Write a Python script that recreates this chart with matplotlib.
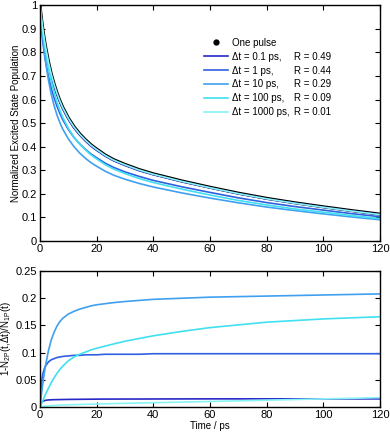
import matplotlib
matplotlib.use("Agg")
from matplotlib import pyplot as plt
from matplotlib.lines import Line2D

plt.rcParams['font.family'] = ['Liberation Sans', 'DejaVu Sans']
plt.rcParams['mathtext.fontset'] = 'custom'
plt.rcParams['mathtext.rm'] = 'Liberation Sans'
plt.rcParams['mathtext.it'] = 'Liberation Sans'

# time axis (ps)
t = [0, 0.25, 0.5, 1, 1.5, 2, 3, 4, 5, 6, 7, 8, 10, 12, 14, 16, 18, 20, 23, 26, 30, 35, 40,
     50, 60, 70, 80, 90, 100, 110, 120]

# normalized excited state population
one_pulse = [1.0, 0.972, 0.945, 0.898, 0.858, 0.822, 0.760, 0.708, 0.665, 0.628, 0.596, 0.568,
             0.522, 0.485, 0.455, 0.430, 0.408, 0.390, 0.365, 0.345, 0.325, 0.303, 0.285,
             0.255, 0.228, 0.203, 0.181, 0.162, 0.145, 0.129, 0.114]
pop_01 = [1.0, 0.967, 0.937, 0.889, 0.848, 0.812, 0.750, 0.699, 0.656, 0.619, 0.588, 0.560,
          0.515, 0.478, 0.449, 0.424, 0.402, 0.384, 0.360, 0.340, 0.320, 0.298, 0.281,
          0.251, 0.225, 0.200, 0.178, 0.160, 0.143, 0.127, 0.112]
pop_1 = [1.0, 0.943, 0.902, 0.843, 0.798, 0.760, 0.697, 0.646, 0.606, 0.571, 0.541, 0.515,
         0.473, 0.439, 0.412, 0.389, 0.369, 0.353, 0.330, 0.312, 0.293, 0.274, 0.257,
         0.230, 0.206, 0.183, 0.163, 0.146, 0.131, 0.116, 0.103]
pop_10 = [1.0, 0.960, 0.923, 0.859, 0.805, 0.758, 0.681, 0.620, 0.573, 0.534, 0.502, 0.475,
          0.433, 0.400, 0.373, 0.351, 0.332, 0.317, 0.296, 0.279, 0.262, 0.244, 0.229,
          0.204, 0.182, 0.162, 0.144, 0.129, 0.115, 0.102, 0.090]
pop_100 = [1.0, 0.969, 0.939, 0.887, 0.843, 0.802, 0.733, 0.676, 0.629, 0.589, 0.555, 0.525,
           0.478, 0.440, 0.411, 0.387, 0.365, 0.348, 0.324, 0.305, 0.286, 0.265, 0.248,
           0.220, 0.195, 0.172, 0.153, 0.136, 0.122, 0.108, 0.095]
pop_1000 = [1.0, 0.972, 0.944, 0.897, 0.857, 0.821, 0.758, 0.706, 0.663, 0.626, 0.594, 0.566,
            0.520, 0.483, 0.453, 0.428, 0.406, 0.388, 0.363, 0.343, 0.323, 0.301, 0.283,
            0.253, 0.226, 0.201, 0.179, 0.160, 0.143, 0.127, 0.112]

# 1 - N2P / N1P
frac_01 = [0, 0.005, 0.008, 0.0105, 0.0117, 0.0124, 0.013, 0.0133, 0.0135, 0.0136, 0.0137,
           0.0138, 0.014, 0.0141, 0.0142, 0.0143, 0.0144, 0.0145, 0.0146, 0.0146, 0.0147,
           0.0147, 0.0148, 0.0149, 0.015, 0.015, 0.015, 0.015, 0.015, 0.015, 0.015]
frac_1 = [0, 0.03, 0.045, 0.061, 0.070, 0.076, 0.083, 0.087, 0.089, 0.091, 0.092, 0.093, 0.094,
          0.095, 0.095, 0.096, 0.096, 0.096, 0.097, 0.097, 0.097, 0.097, 0.098, 0.098, 0.098,
          0.098, 0.098, 0.098, 0.098, 0.098, 0.098]
frac_10 = [0, 0.012, 0.023, 0.043, 0.062, 0.078, 0.104, 0.124, 0.138, 0.149, 0.157, 0.163,
           0.171, 0.176, 0.180, 0.183, 0.186, 0.188, 0.190, 0.192, 0.194, 0.196, 0.198, 0.200,
           0.202, 0.203, 0.204, 0.205, 0.206, 0.207, 0.208]
frac_100 = [0, 0.003, 0.006, 0.012, 0.018, 0.024, 0.035, 0.045, 0.054, 0.062, 0.069, 0.075,
            0.085, 0.092, 0.097, 0.101, 0.105, 0.108, 0.112, 0.116, 0.121, 0.126, 0.131,
            0.139, 0.146, 0.151, 0.156, 0.159, 0.162, 0.164, 0.166]
frac_1000 = [0, 0.0003, 0.0006, 0.001, 0.0014, 0.0017, 0.0022, 0.0026, 0.0029, 0.0032, 0.0034,
             0.0036, 0.004, 0.0043, 0.0046, 0.0049, 0.0052, 0.0055, 0.0059, 0.0063, 0.0068,
             0.0073, 0.0079, 0.009, 0.0102, 0.0114, 0.0126, 0.0138, 0.015, 0.0161, 0.0172]

delay_labels = ['\u0394t = 0.1 ps,', '\u0394t = 1 ps,', '\u0394t = 10 ps,',
                '\u0394t = 100 ps,', '\u0394t = 1000 ps,']
r_labels = ['R = 0.49', 'R = 0.44', 'R = 0.29', 'R = 0.09', 'R = 0.01']
colors = ['#2828c8', '#3060e0', '#40a0f0', '#40e0f0', '#88f4f4']

pops = [pop_01, pop_1, pop_10, pop_100, pop_1000]
fracs = [frac_01, frac_1, frac_10, frac_100, frac_1000]

fig = plt.figure(figsize=(3.9, 4.33), dpi=100)
ax1 = fig.add_axes([0.1026, 0.4434, 0.8718, 0.5446])
ax2 = fig.add_axes([0.1026, 0.060, 0.8718, 0.314])


def style(ax):
    ax.tick_params(direction='in', top=True, right=True, length=3.5, width=0.8,
                   labelsize=8, pad=2)
    for s in ax.spines.values():
        s.set_linewidth(1.0)


# top panel
ax1.plot(t, one_pulse, color='black', lw=2.2)
handles = []
for p, c in zip(pops, colors):
    h, = ax1.plot(t, p, color=c, lw=1.2)
    handles.append(h)
ax1.set_xlim(0, 120)
ax1.set_ylim(0, 1)
ax1.set_xticks(range(0, 121, 20))
ax1.set_yticks([i / 10 for i in range(11)])
ax1.set_yticklabels(['0'] + ['%.1f' % (i / 10) for i in range(1, 10)] + ['1'])
ax1.set_ylabel('Normalized Excited State Population', fontsize=7)
ax1.yaxis.set_label_coords(-0.055, 0.5)
style(ax1)

dot = Line2D([], [], color='black', marker='o', ms=3.5, ls='none')
blank = Line2D([], [], color='none')
leg_handles = [dot] + handles + [blank] * 6
leg_labels = ['One pulse'] + delay_labels + [''] + r_labels
ax1.legend(leg_handles, leg_labels, ncol=2, frameon=False, fontsize=7,
           loc='upper left', bbox_to_anchor=(0.482, 0.862), borderaxespad=0,
           borderpad=0, handlelength=2.47, handletextpad=0.4, labelspacing=0.4,
           columnspacing=-2.4)

# bottom panel
for f, c in zip(fracs, colors):
    ax2.plot(t, f, color=c, lw=1.2)
ax2.set_xlim(0, 120)
ax2.set_ylim(0, 0.25)
ax2.set_xticks(range(0, 121, 20))
ax2.set_yticks([0, 0.05, 0.1, 0.15, 0.2, 0.25])
ax2.set_yticklabels(['0', '0.05', '0.1', '0.15', '0.2', '0.25'])
ax2.set_xlabel('Time / ps', fontsize=7, labelpad=1)
ax2.set_ylabel('1-N$_{2P}$(t,\u0394t)/N$_{1P}$(t)', fontsize=7)
ax2.yaxis.set_label_coords(-0.078, 0.5)
style(ax2)

fig.savefig('out.png', dpi=100)
